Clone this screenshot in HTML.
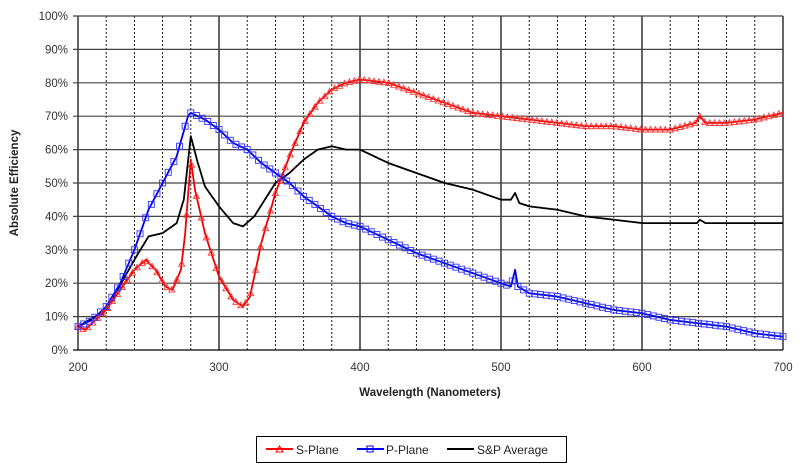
<!DOCTYPE html>
<html><head><meta charset="utf-8"><style>
body{margin:0;background:#fff;width:800px;height:468px;overflow:hidden}
svg text{font-family:"Liberation Sans",Arial,sans-serif}
</style></head><body>
<svg id="s" width="800" height="468" xmlns="http://www.w3.org/2000/svg">
<text x="430" y="396" text-anchor="middle" font-size="11.5" font-weight="bold" fill="#222">Wavelength (Nanometers)</text>
<text transform="translate(18,183) rotate(-90)" text-anchor="middle" font-size="11.5" font-weight="bold" fill="#222">Absolute Efficiency</text>
<rect x="256.5" y="436.5" width="310" height="26" fill="#fff" stroke="#000"/>
<line x1="266" y1="449" x2="293" y2="449" stroke="red" stroke-width="2"/>
<path d="M276 452 L279.5 446 L283 452 Z" fill="none" stroke="red"/>
<text x="296" y="454" font-size="12" fill="#222">S-Plane</text>
<line x1="357" y1="449" x2="384" y2="449" stroke="#00f" stroke-width="2"/>
<rect x="367" y="446" width="6" height="6" fill="none" stroke="#00f"/>
<text x="386" y="454" font-size="12" fill="#222">P-Plane</text>
<line x1="447" y1="449" x2="474" y2="449" stroke="#000" stroke-width="2"/>
<text x="477" y="454" font-size="12" fill="#222">S&amp;P Average</text>
<g id="g"></g>
</svg>
<script>
const NS="http://www.w3.org/2000/svg",g=document.getElementById('g');
const X=l=>78+(l-200)*1.41, Y=p=>350-p*3.34;
function el(t,a){const e=document.createElementNS(NS,t);for(const k in a)e.setAttribute(k,a[k]);g.appendChild(e);return e}
for(let l=200;l<=700;l+=20){const m=l%100==0;el('line',{x1:X(l),x2:X(l),y1:Y(100),y2:350,stroke:'#000','stroke-width':m?1.2:0.9,'stroke-dasharray':m?'':'2,2'})}
for(let p=0;p<=100;p+=10){el('line',{x1:X(200)-5,x2:X(700),y1:Y(p),y2:Y(p),stroke:p==0?'#000':'#444','stroke-width':1.2});
 const t=el('text',{x:68,y:Y(p)+4,'text-anchor':'end','font-size':11.5,fill:'#333'});t.textContent=p+'%'}
for(let l=200;l<=700;l+=100){const t=el('text',{x:X(l),y:371,'text-anchor':'middle','font-size':11.5,fill:'#333'});t.textContent=l}
function interp(d,l){for(let i=0;i<d.length-1;i++){if(l>=d[i][0]&&l<=d[i+1][0]){const f=(l-d[i][0])/(d[i+1][0]-d[i][0]);return d[i][1]+f*(d[i+1][1]-d[i][1])}}return d[d.length-1][1]}
const S=[[200,7],[205,6],[210,8],[220,12],[230,18],[240,24],[248,27],[255,24],[262,19],[267,18],[273,24],[276,35],[280,57],[283,48],[290,35],[300,22],[310,15],[317,13],[322,16],[330,32],[340,47],[350,58],[360,68],[370,74],[380,78],[390,80],[400,81],[420,80],[440,77],[460,74],[480,71],[500,70],[520,69],[540,68],[560,67],[580,67],[600,66],[620,66],[638,68],[641,70],[645,68],[660,68],[680,69],[700,71]];
const P=[[200,7],[210,9],[220,13],[230,20],[240,30],[250,42],[260,50],[270,58],[278,70],[280,71],[290,69],[300,66],[310,62],[320,60],[330,56],[340,53],[350,50],[360,46],[370,43],[380,40],[390,38],[400,37],[420,33],[440,29],[460,26],[480,23],[500,20],[507,19],[510,24],[512,19],[520,17],[540,16],[560,14],[580,12],[600,11],[620,9],[640,8],[660,7],[680,5],[700,4]];
const A=[[200,7],[220,12],[240,27],[250,34],[260,35],[270,38],[275,45],[280,64],[285,56],[290,49],[300,43],[310,38],[317,37],[325,40],[340,50],[350,53],[360,57],[370,60],[380,61],[390,60],[400,60],[420,56],[440,53],[460,50],[480,48],[500,45],[507,45],[510,47],[513,44],[520,43],[540,42],[560,40],[580,39],[600,38],[620,38],[639,38],[641,39],[645,38],[660,38],[700,38]];
function line(d,c){let s='';for(let l=200;l<=700;l+=1)s+=(l==200?'M':'L')+X(l).toFixed(1)+' '+Y(interp(d,l)).toFixed(1);el('path',{d:s,fill:'none',stroke:c,'stroke-width':1.8,'stroke-linejoin':'round'})}
line(A,'#000');line(S,'#e00');line(P,'#00e');
for(let l=200;l<=700;l+=3.5){const x=X(l),y=Y(interp(S,l));el('path',{d:`M${x-3} ${y+2.5}L${x} ${y-3}L${x+3} ${y+2.5}Z`,fill:'none',stroke:'#f33','stroke-width':0.9})}
for(let l=200;l<=700;l+=4){const x=X(l),y=Y(interp(P,l));el('rect',{x:x-3,y:y-3,width:6,height:6,fill:'none',stroke:'#33f','stroke-width':0.9})}
</script>
</body></html>
